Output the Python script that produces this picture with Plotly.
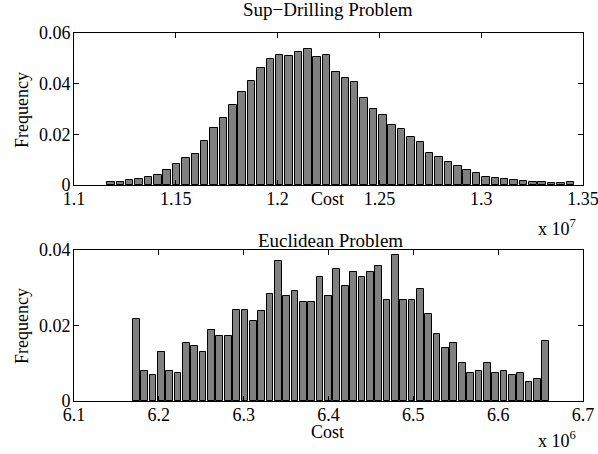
import numpy as np
import plotly.graph_objects as go

# ---------------- data ----------------
# Sup-Drilling problem: 50-bin histogram of cost (relative frequency)
sup_bin_start = 11.1817e6      # centre of first bin
sup_bin_width = 46040.0
sup_freq = [0.0012, 0.0012, 0.0018, 0.0022, 0.0032, 0.0041, 0.0059, 0.0082, 0.0105, 0.0124,
            0.0175, 0.0224, 0.0263, 0.0315, 0.0368, 0.0412, 0.0462, 0.0497, 0.0514, 0.0510,
            0.0524, 0.0536, 0.0504, 0.0512, 0.0445, 0.0421, 0.0405, 0.0342, 0.0301, 0.0275,
            0.0238, 0.0220, 0.0191, 0.0168, 0.0128, 0.0111, 0.0092, 0.0076, 0.0059, 0.0047,
            0.0033, 0.0029, 0.0022, 0.0020, 0.0016, 0.0011, 0.0011, 0.0008, 0.0008, 0.0012]

# Euclidean problem: 50-bin histogram of cost (relative frequency)
euc_bin_start = 6.1734e6
euc_bin_width = 9850.0
euc_freq = [0.0218, 0.0079, 0.0069, 0.0129, 0.0079, 0.0073, 0.0153, 0.0147, 0.0129, 0.0189,
            0.0171, 0.0171, 0.0242, 0.0242, 0.0212, 0.0238, 0.0284, 0.0370, 0.0277, 0.0291,
            0.0261, 0.0261, 0.0328, 0.0278, 0.0350, 0.0305, 0.0341, 0.0328, 0.0341, 0.0357,
            0.0268, 0.0387, 0.0268, 0.0268, 0.0298, 0.0230, 0.0177, 0.0140, 0.0153, 0.0100,
            0.0073, 0.0080, 0.0100, 0.0073, 0.0080, 0.0070, 0.0073, 0.0050, 0.0057, 0.0159]

sup_xticks = [1.10e7, 1.15e7, 1.20e7, 1.25e7, 1.30e7, 1.35e7]
sup_xtext = ["1.1", "1.15", "1.2", "1.25", "1.3", "1.35"]
sup_yticks = [0, 0.02, 0.04, 0.06]
sup_ytext = ["0", "0.02", "0.04", "0.06"]

euc_xticks = [6.1e6, 6.2e6, 6.3e6, 6.4e6, 6.5e6, 6.6e6, 6.7e6]
euc_xtext = ["6.1", "6.2", "6.3", "6.4", "6.5", "6.6", "6.7"]
euc_yticks = [0, 0.02, 0.04]
euc_ytext = ["0", "0.02", "0.04"]

titles = ["Sup\u2212Drilling Problem", "Euclidean Problem"]

# ---------------- figure ----------------
W, H = 598, 454
FONT = "Liberation Serif, Times New Roman, serif"
FS = 19
TFS = 18

sup_x = sup_bin_start + sup_bin_width * np.arange(len(sup_freq))
euc_x = euc_bin_start + euc_bin_width * np.arange(len(euc_freq))

fig = go.Figure()
fig.add_trace(go.Bar(x=sup_x, y=sup_freq, width=0.8 * sup_bin_width,
                     marker=dict(color="#808080", line=dict(color="black", width=1)),
                     xaxis="x", yaxis="y", showlegend=False))
fig.add_trace(go.Bar(x=euc_x, y=euc_freq, width=0.8 * euc_bin_width,
                     marker=dict(color="#808080", line=dict(color="black", width=1)),
                     xaxis="x2", yaxis="y2", showlegend=False))

def px_x(p):
    return p / W

def px_y(p):
    return 1 - p / H

xdom = [px_x(74), px_x(583)]
axis_common = dict(showgrid=False, zeroline=False, showline=True, linecolor="black",
                   linewidth=1, mirror="ticks", ticks="inside", ticklen=5,
                   tickcolor="black", automargin=False, ticklabeloverflow="allow",
                   tickfont=dict(family=FONT, size=TFS, color="black"))
xaxis_extra = dict(ticklabelstandoff=-3)
yaxis_extra = dict(ticklabelstandoff=-1)

fig.update_layout(
    width=W, height=H,
    margin=dict(l=0, r=0, t=0, b=0, autoexpand=False),
    paper_bgcolor="white", plot_bgcolor="white",
    bargap=0,
    xaxis=dict(domain=xdom, anchor="y", range=[1.1e7, 1.35e7],
               tickvals=sup_xticks, ticktext=sup_xtext, **axis_common, **xaxis_extra),
    yaxis=dict(domain=[px_y(185), px_y(33)], anchor="x", range=[0, 0.06],
               tickvals=sup_yticks, ticktext=sup_ytext, **axis_common, **yaxis_extra),
    xaxis2=dict(domain=xdom, anchor="y2", range=[6.1e6, 6.7e6],
                tickvals=euc_xticks, ticktext=euc_xtext, **axis_common, **xaxis_extra),
    yaxis2=dict(domain=[px_y(401), px_y(250)], anchor="x2", range=[0, 0.04],
                tickvals=euc_yticks, ticktext=euc_ytext, **axis_common, **yaxis_extra),
)

def ann(text, x, y, angle=0, xanchor="center", size=FS):
    fig.add_annotation(text=text, x=px_x(x), y=px_y(y), xref="paper", yref="paper",
                       showarrow=False, xanchor=xanchor, yanchor="middle",
                       textangle=angle, font=dict(family=FONT, size=size, color="black"))

ann(titles[0], 328, 10)
ann(titles[1], 330, 240)
ann("Cost", 327, 199, size=TFS)
ann("Cost", 327, 432, size=TFS)
ann("x 10<sup>7</sup>", 557, 227, size=TFS)
ann("x 10<sup>6</sup>", 557, 439, size=TFS)
ann("Frequency", 22, 110, angle=-90, size=TFS)
ann("Frequency", 22, 326, angle=-90, size=TFS)

fig.write_html("out.html")
